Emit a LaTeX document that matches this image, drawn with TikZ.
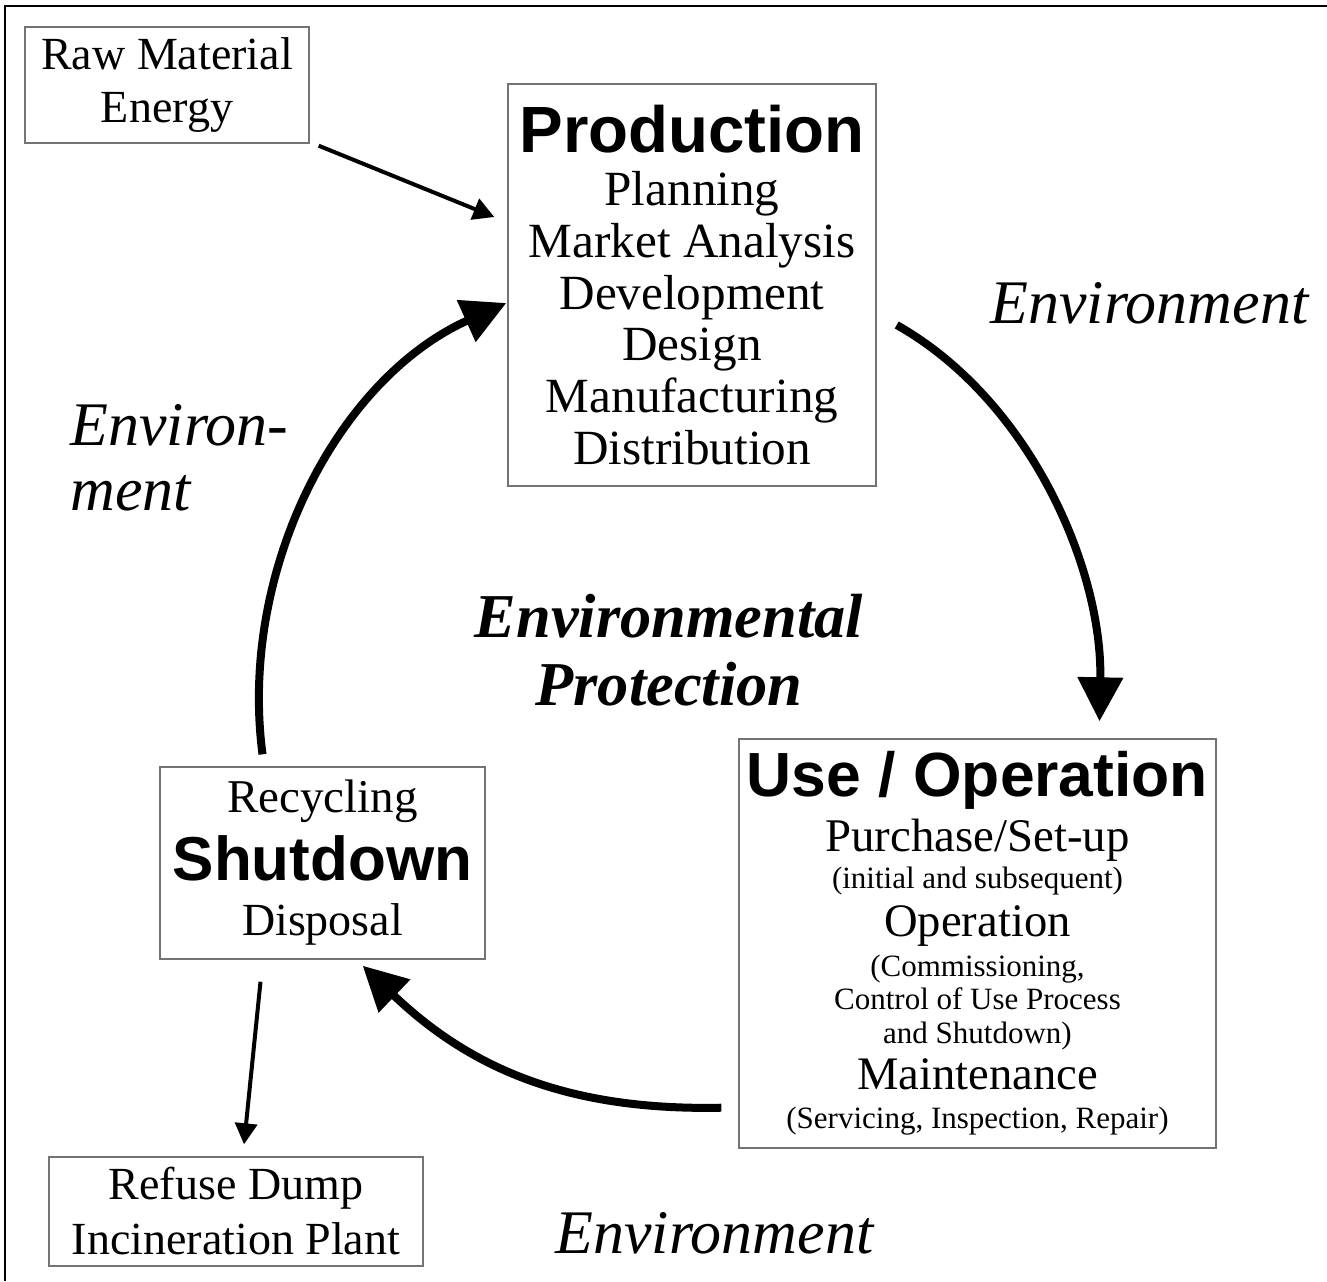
\documentclass[tikz,border=0pt]{standalone}
\usepackage{fontspec}
\setmainfont{Liberation Serif}
\setsansfont{Liberation Sans}
\usetikzlibrary{arrows.meta}

\begin{document}
\begin{tikzpicture}[x=0.5pt, y=-0.5pt,
  box/.style={draw=black!55, line width=0.7pt, inner sep=2pt, align=center,
    font={\fontsize{23}{26}\selectfont\lineskiplimit-100pt\relax}},
  env/.style={inner sep=0pt, font={\itshape\fontsize{31}{32.5}\selectfont\lineskiplimit-100pt\relax}},
  thinarrow/.style={line width=2pt, -{Triangle[length=10.5pt,width=11pt]}},
  bigarrow/.style={line width=4pt, -{Triangle[length=22pt,width=22pt]}}]
\useasboundingbox (0,0) rectangle (1327,1281);
\draw[line width=1.3pt] (5,1281) -- (5,6) -- (1327,6);

\node[box, minimum width=142pt, minimum height=58pt] (raw) at (167,85)
  {Raw Material\\[0.5pt] Energy};
\node[box, minimum width=184pt, minimum height=201pt, font={\fontsize{24.6}{25.9}\selectfont\lineskiplimit-100pt\relax}] (prod) at (692,285)
  {{\sffamily\bfseries\fontsize{32.7}{33}\selectfont Production}\\[0.6pt]
   Planning\\ Market Analysis\\ Development\\ Design\\ Manufacturing\\ Distribution};
\node[box, minimum width=238.5pt, minimum height=204.5pt, font={\fontsize{15.5}{17}\selectfont\lineskiplimit-100pt\relax}] (use) at (977.5,943.5)
  {{\sffamily\bfseries\fontsize{31.2}{31}\selectfont Use / Operation}\\[10.5pt]
   {\fontsize{23.4}{26}\selectfont Purchase/Set-up}\\[1.5pt]
   (initial and subsequent)\\[7pt]
   {\fontsize{23.3}{26}\selectfont Operation}\\[3pt]
   (Commissioning,\\[-0.5pt]
   Control of Use Process\\
   and Shutdown)\\[6pt]
   {\fontsize{23.3}{26}\selectfont Maintenance}\\[2.5pt]
   (Servicing, Inspection, Repair)};
\node[box, minimum width=162.5pt, minimum height=96pt] (shut) at (322.5,863)
  {{\fontsize{23.5}{26}\selectfont Recycling}\\[8pt]
   {\sffamily\bfseries\fontsize{31}{31}\selectfont Shutdown}\\[1.5pt]
   Disposal};
\node[box, minimum width=187pt, minimum height=54.5pt] (refuse) at (236,1211.5)
  {Refuse Dump\\[1.5pt] Incineration Plant};

\node[env, anchor=base west] (envright) at (990,323) {Environment};
\node[env, anchor=base west, align=left] (envleft) at (70,510) {Environ-\\ment};
\node[env, anchor=base west] (envbottom) at (555,1253) {Environment};
\node[env, anchor=base, align=center, font={\bfseries\itshape\fontsize{31.2}{34}\selectfont\lineskiplimit-100pt\relax}] (protect) at (669,705)
  {Environmental\\Protection};

\draw[thinarrow] ([shift={(9,2)}]raw.south east) -- ([shift={(-13,-68)}]prod.west);
\draw[bigarrow] ([shift={(20,40)}]prod.east) .. controls +(133,75) and +(3,-153) .. ([shift={(122,-17)}]use.north);
\draw[bigarrow] ([shift={(-17,-41)}]use.south west) .. controls +(-150,3) and +(110,105) .. ([shift={(-123,6)}]shut.south east);
\draw[bigarrow] ([shift={(-60,-12)}]shut.north) .. controls +(-24,-184) and +(-169,76) .. ([shift={(-1,18)}]prod.west);
\draw[thinarrow] ([shift={(-62,22)}]shut.south) -- ([shift={(8,-12)}]refuse.north);
\end{tikzpicture}
\end{document}
